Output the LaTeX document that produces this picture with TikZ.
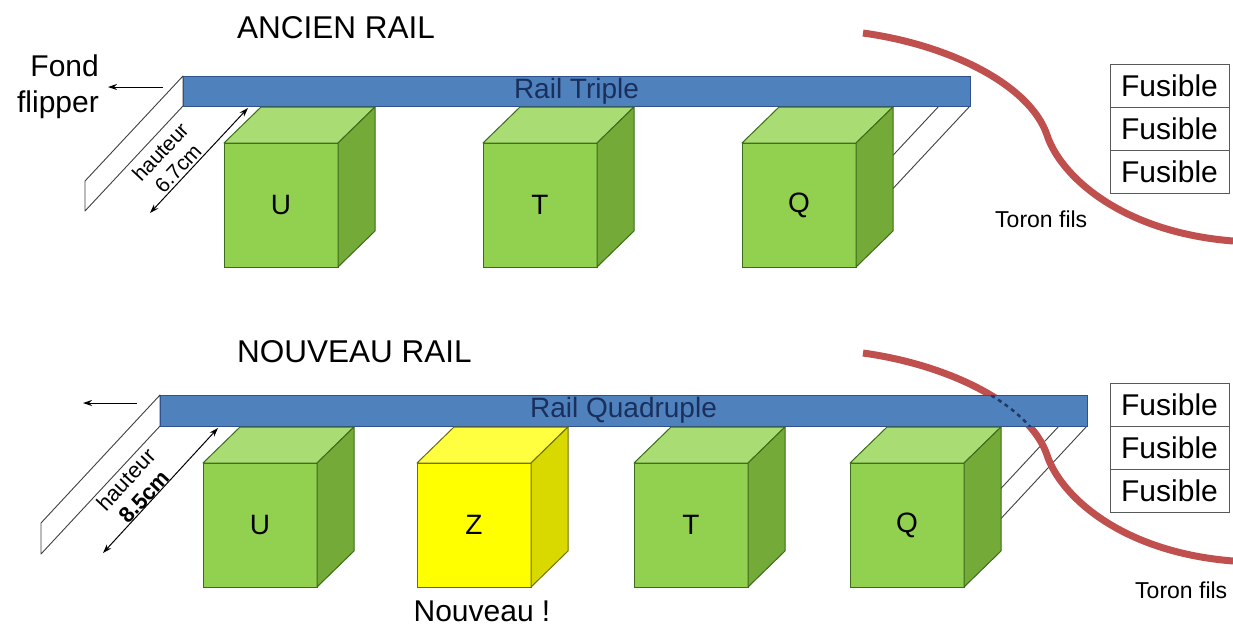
\documentclass[tikz,border=0pt]{standalone}
\usepackage{fontspec}
\setmainfont{Liberation Sans}
\usetikzlibrary{calc,arrows.meta}

\definecolor{railblue}{HTML}{4F81BD}
\definecolor{railedge}{HTML}{2F528F}
\definecolor{railtext}{HTML}{1A2F5C}
\definecolor{gfront}{HTML}{92D050}
\definecolor{gtop}{HTML}{A9DC72}
\definecolor{gside}{HTML}{73AA38}
\definecolor{gedge}{HTML}{3D6B1C}
\definecolor{yfront}{HTML}{FFFF00}
\definecolor{ytop}{HTML}{FFFF40}
\definecolor{yside}{HTML}{D9D900}
\definecolor{yedge}{HTML}{6E6E00}
\definecolor{harnessred}{HTML}{C0504D}
\definecolor{hiddenblue}{HTML}{1F3864}

% a box-shaped module: front face is the named node, top and side faces follow it
\newcommand\railcube[5]{%
  \node[cubeface, anchor=north west, fill=#5front, draw=#5edge] (#1) at (#2,#3) {#4};
  \filldraw[fill=#5top, draw=#5edge, line width=1pt, line join=round]
    (#1.north west) -- ++(37,-36) -- ++(114,0) -- (#1.north east) -- cycle;
  \filldraw[fill=#5side, draw=#5edge, line width=1pt, line join=round]
    (#1.north east) -- ++(37,-36) -- ++(0,124) -- (#1.south east) -- cycle;
}

\begin{document}
\begin{tikzpicture}[x=1pt, y=-1pt,
  title/.style={font=\fontsize{31.5}{36}\selectfont, inner sep=0, anchor=base west},
  cubeface/.style={line width=1pt, minimum width=114pt, minimum height=124pt,
    inner sep=0, outer sep=0, font=\fontsize{28}{32}\selectfont},
  railbar/.style={fill=railblue, draw=railedge, line width=1pt, inner sep=0, outer sep=0,
    text=railtext, font=\fontsize{28}{32}\selectfont},
  fusecell/.style={draw=black!65, line width=1pt, minimum width=119pt, minimum height=43pt,
    inner sep=0, outer sep=0, font=\fontsize{30}{34}\selectfont},
  panel/.style={fill=white, draw=black!75, line width=0.9pt, line join=round},
  dim/.style={{Stealth[length=9pt,width=6pt]}-{Stealth[length=9pt,width=6pt]}, line width=1pt},
  pointer/.style={-{Stealth[length=9pt,width=6pt]}, line width=1pt},
  harness/.style={draw=harnessred, line width=7pt},
  hiddenwire/.style={draw=hiddenblue, line width=2.5pt, dash pattern=on 4pt off 4pt},
  harnesscurve/.style={insert path={(863,33) .. controls (950,45) and (1030,85) .. (1047,135)
    .. controls (1060,175) and (1120,232) .. (1233,241)}},
  small/.style={font=\fontsize{23}{27}\selectfont, inner sep=0, anchor=base west},
  dimtext/.style={font=\fontsize{21}{24}\selectfont, align=center, inner sep=0, rotate=47}
]
\useasboundingbox (0,0) rectangle (1233,625);

% ---------------- old rail ----------------
\node[title] (t1) at (237,38) {ANCIEN RAIL};
\node[font=\fontsize{30}{36}\selectfont, align=right, inner sep=0, anchor=north east]
  (fond) at (99,55) {Fond\\flipper};

\node[railbar, minimum width=787pt, minimum height=30pt] (rail1) at (576.5,91) {Rail Triple};

% support plates under the rail
\filldraw[panel] (rail1.north west) -- ++(-98,105) -- ++(0,30) -- (rail1.south west) -- cycle;
\filldraw[panel] ($(rail1.south east)+(-31,0)$) -- (rail1.south east) -- ++(-98,105) -- ++(-31,0) -- cycle;
\node[railbar, minimum width=787pt, minimum height=30pt] at (576.5,91) {Rail Triple};

\coordinate (p1a) at (163,87);
\coordinate (p1b) at (108,87);
\draw[pointer] (p1a) -- (p1b);

\coordinate (h1a) at (248,108);
\coordinate (h1b) at (150,213);
\draw[dim] (h1a) -- (h1b);
\node[dimtext] (h1t) at (169,160) {hauteur\\6.7cm};

\railcube{u1}{224}{143}{U}{g}
\railcube{t1c}{483}{143}{T}{g}
\railcube{q1}{742}{143}{Q}{g}

\draw[harness, harnesscurve];
\node[small] (tor1) at (995,227) {Toron fils};

\node[fusecell] (f1a) at (1169.5,85.5) {Fusible};
\node[fusecell] (f1b) at (1169.5,128.5) {Fusible};
\node[fusecell] (f1c) at (1169.5,171.5) {Fusible};

% ---------------- new rail ----------------
\node[title] (t2) at (237,362) {NOUVEAU RAIL};

\coordinate (p2a) at (137,403);
\coordinate (p2b) at (83,403);
\draw[pointer] (p2a) -- (p2b);

\node[railbar, minimum width=927pt, minimum height=31pt] (rail2) at (623.5,410.5) {Rail Quadruple};
\filldraw[panel] (rail2.north west) -- ++(-119,128) -- ++(0,31) -- (rail2.south west) -- cycle;
\filldraw[panel] ($(rail2.south east)+(-28,0)$) -- (rail2.south east) -- ++(-119,128) -- ++(-28,0) -- cycle;

% wire harness passes behind the rail
\draw[harness, shift={(0,320)}, harnesscurve];
\node[railbar, minimum width=927pt, minimum height=31pt] at (623.5,410.5) {Rail Quadruple};
\begin{scope}
  \clip (rail2.north west) rectangle (rail2.south east);
  \draw[hiddenwire, shift={(0,320)}, harnesscurve];
\end{scope}

\coordinate (h2a) at (218,428);
\coordinate (h2b) at (103,553);
\draw[dim] (h2a) -- (h2b);
\node[dimtext, font=\fontsize{22}{25}\selectfont] (h2t) at (135,488) {hauteur\\\textbf{8.5cm}};

\railcube{u2}{203}{463}{U}{g}
\railcube{z2}{417}{463}{Z}{y}
\railcube{t2c}{634}{463}{T}{g}
\railcube{q2}{850}{463}{Q}{g}

\node[font=\fontsize{30}{36}\selectfont, inner sep=0, anchor=base] (nouv) at (482,621) {Nouveau !};
\node[small] (tor2) at (1135,598) {Toron fils};

\node[fusecell] (f2a) at (1169.5,404.5) {Fusible};
\node[fusecell] (f2b) at (1169.5,447.5) {Fusible};
\node[fusecell] (f2c) at (1169.5,490.5) {Fusible};
\end{tikzpicture}
\end{document}
